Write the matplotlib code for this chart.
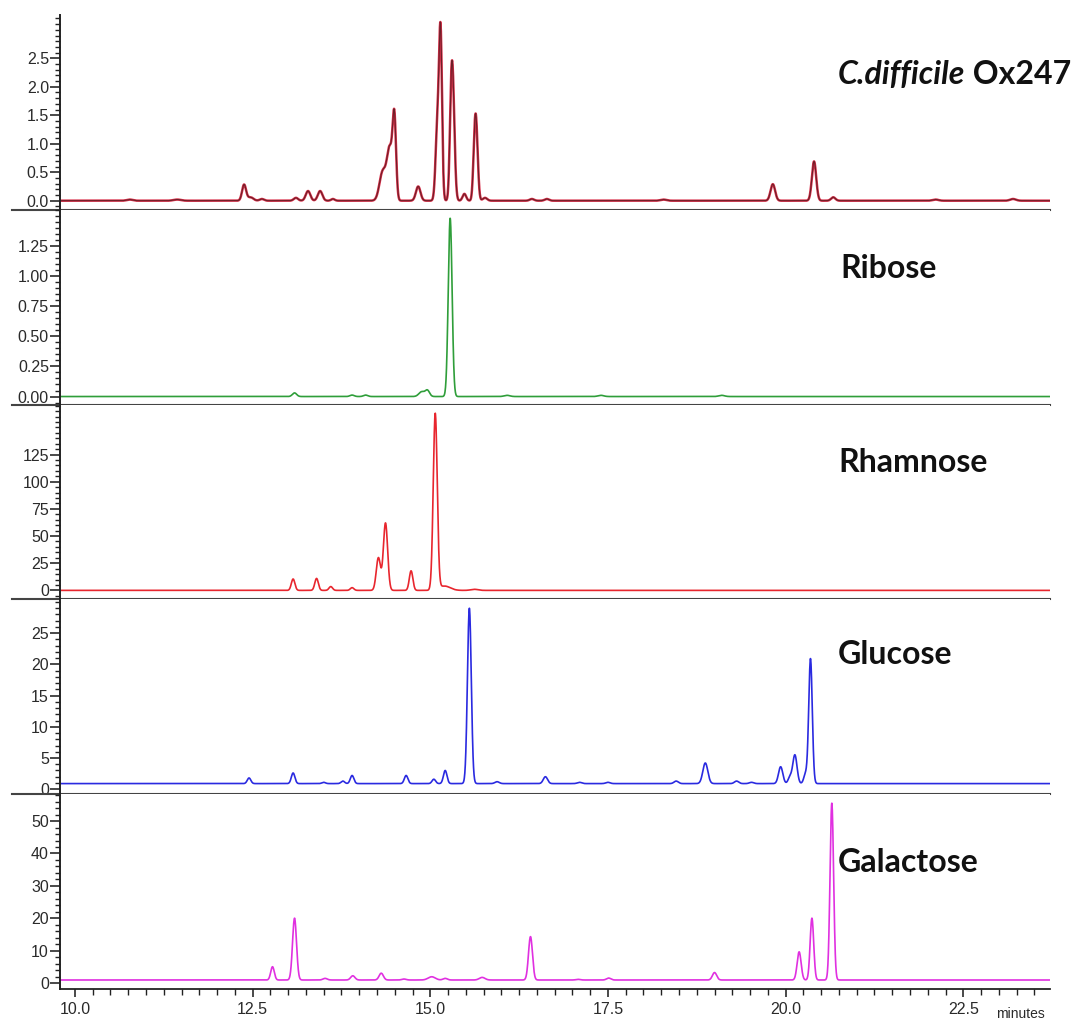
import numpy as np
import matplotlib.pyplot as plt
from matplotlib.ticker import MultipleLocator, FixedLocator, FormatStrFormatter
from matplotlib.lines import Line2D

ox247_rt = [10.77, 11.44, 12.38, 12.47, 12.63, 13.11, 13.28, 13.45, 13.63, 14.33, 14.43, 14.495,
            14.83, 15.10, 15.145, 15.29, 15.315, 15.48, 15.62, 15.645, 15.77, 16.43, 16.64,
            18.28, 19.82, 20.40, 20.67, 22.11, 23.20]
ox247_h = [0.02, 0.02, 0.28, 0.06, 0.03, 0.05, 0.17, 0.17, 0.03, 0.50, 0.90, 1.35,
           0.25, 1.30, 2.85, 0.80, 2.00, 0.12, 0.50, 1.25, 0.05, 0.03, 0.03,
           0.02, 0.29, 0.69, 0.06, 0.02, 0.03]
ox247_w = [0.04, 0.05, 0.028, 0.04, 0.03, 0.03, 0.032, 0.032, 0.025, 0.045, 0.04, 0.024,
           0.032, 0.025, 0.021, 0.02, 0.026, 0.025, 0.02, 0.024, 0.03, 0.03, 0.03,
           0.04, 0.032, 0.03, 0.03, 0.04, 0.04]
ox247_base = 0.0

ribose_rt = [13.09, 13.90, 14.09, 14.88, 14.96, 15.28, 16.08, 17.40, 19.10]
ribose_h = [0.03, 0.012, 0.012, 0.04, 0.05, 1.48, 0.01, 0.01, 0.01]
ribose_w = [0.03, 0.03, 0.03, 0.04, 0.03, 0.027, 0.04, 0.04, 0.04]
ribose_base = 0.0

rhamnose_rt = [13.07, 13.40, 13.60, 13.90, 14.27, 14.37, 14.73, 15.07, 15.20, 15.62]
rhamnose_h = [10.5, 11.0, 3.5, 2.5, 30.0, 62.0, 18.0, 162.0, 4.0, 1.0]
rhamnose_w = [0.025, 0.025, 0.025, 0.025, 0.03, 0.03, 0.025, 0.028, 0.08, 0.05]
rhamnose_base = 0.0

glucose_rt = [12.45, 13.07, 13.50, 13.77, 13.90, 14.66, 15.05, 15.21, 15.55, 15.94, 16.62,
              17.10, 17.50, 18.46, 18.87, 19.31, 19.52, 19.93, 20.06, 20.13, 20.28, 20.35]
glucose_h = [0.9, 1.7, 0.2, 0.4, 1.3, 1.3, 0.7, 2.1, 28.1, 0.3, 1.1,
             0.2, 0.2, 0.4, 3.3, 0.4, 0.2, 2.7, 1.0, 4.6, 1.5, 20.0]
glucose_w = [0.025, 0.025, 0.025, 0.025, 0.025, 0.025, 0.025, 0.025, 0.027, 0.03, 0.03,
             0.03, 0.03, 0.03, 0.035, 0.03, 0.03, 0.03, 0.025, 0.03, 0.025, 0.025]
glucose_base = 0.9

galactose_rt = [12.78, 13.09, 13.52, 13.91, 14.31, 14.63, 15.02, 15.21, 15.73, 16.41,
                17.08, 17.51, 19.00, 20.19, 20.37, 20.65]
galactose_h = [4.1, 19.1, 0.5, 1.3, 2.1, 0.3, 1.0, 0.5, 0.8, 13.4,
               0.2, 0.6, 2.3, 8.7, 19.1, 54.6]
galactose_w = [0.025, 0.028, 0.03, 0.03, 0.03, 0.03, 0.05, 0.03, 0.04, 0.028,
               0.03, 0.03, 0.03, 0.028, 0.025, 0.025]
galactose_base = 0.93

t = np.linspace(9.79, 23.72, 6000)


def trace(rt, h, w, base):
    y = np.full_like(t, base)
    for c, a, s in zip(rt, h, w):
        y += a * np.exp(-0.5 * ((t - c) / s) ** 2)
    return y


paneles = [
    dict(y=trace(ox247_rt, ox247_h, ox247_w, ox247_base), color="#c42a3c", ylim=(-0.16, 3.26),
         major=[0, 0.5, 1.0, 1.5, 2.0, 2.5], minor=0.1, fmt="%.1f"),
    dict(y=trace(ribose_rt, ribose_h, ribose_w, ribose_base), color="#2f9e3a", ylim=(-0.067, 1.55),
         major=[0, 0.25, 0.5, 0.75, 1.0, 1.25], minor=0.05, fmt="%.2f"),
    dict(y=trace(rhamnose_rt, rhamnose_h, rhamnose_w, rhamnose_base), color="#e8262e", ylim=(-8.3, 171),
         major=[0, 25, 50, 75, 100, 125], minor=5, fmt="%d"),
    dict(y=trace(glucose_rt, glucose_h, glucose_w, glucose_base), color="#2a2ae0", ylim=(-0.8, 30.4),
         major=[0, 5, 10, 15, 20, 25], minor=1, fmt="%d"),
    dict(y=trace(galactose_rt, galactose_h, galactose_w, galactose_base), color="#e030e0", ylim=(-1.85, 58.3),
         major=[0, 10, 20, 30, 40, 50], minor=2, fmt="%d"),
]

W, H = 1076, 1023
fig = plt.figure(figsize=(W / 100, H / 100), dpi=100)
left_px, right_px, top_px, ph = 60, 1050, 15, 194.8

axes = []
for i, p in enumerate(paneles):
    bottom = 1 - (top_px + (i + 1) * ph) / H
    ax = fig.add_axes([left_px / W, bottom, (right_px - left_px) / W, ph / H])
    axes.append(ax)
    if i == 0:
        ax.plot(t, p["y"], color="#d8304a", lw=1.8)
        ax.plot(t, p["y"], color="#6e1f28", lw=0.8)
    else:
        ax.plot(t, p["y"], color=p["color"], lw=1.2)
    ax.set_xlim(9.79, 23.72)
    ax.set_ylim(*p["ylim"])
    ax.yaxis.set_major_locator(FixedLocator(p["major"]))
    ax.yaxis.set_major_formatter(FormatStrFormatter(p["fmt"]))
    ax.yaxis.set_minor_locator(MultipleLocator(p["minor"]))
    ax.tick_params(axis="y", which="major", direction="out", length=7, width=1.2,
                   pad=1, labelsize=11.5, colors="#2a2a2a")
    ax.tick_params(axis="y", which="minor", direction="out", length=3.5, width=1.0, color="#222222")
    for lab in ax.get_yticklabels():
        lab.set_family("Liberation Sans")
    ax.spines["top"].set_visible(False)
    ax.spines["right"].set_visible(False)
    ax.spines["left"].set_linewidth(1.4)
    ax.spines["left"].set_color("#222222")
    if i < len(paneles) - 1:
        ax.spines["bottom"].set_visible(False)
        ax.set_xticks([])
        ax.add_line(Line2D([-48 / 990, 1.0], [0, 0], transform=ax.transAxes,
                           color="#444444", lw=1.5, clip_on=False))
    else:
        ax.spines["bottom"].set_linewidth(1.3)
        ax.spines["bottom"].set_color("#222222")
        ax.xaxis.set_major_locator(MultipleLocator(2.5))
        ax.xaxis.set_major_formatter(FormatStrFormatter("%.1f"))
        ax.xaxis.set_minor_locator(MultipleLocator(0.25))
        ax.tick_params(axis="x", which="major", direction="out", length=6, width=1.2,
                       pad=3, labelsize=11.5, colors="#2a2a2a")
        ax.tick_params(axis="x", which="minor", direction="out", length=4, width=1.0, color="#222222")
        for lab in ax.get_xticklabels():
            lab.set_family("Liberation Sans")

fig.text(1020 / W, 1 - 1014 / H, "minutes", ha="center", va="center",
         family="Liberation Sans", size=10, color="#2a2a2a")

# Etiquetas de cada traza
title_kw = dict(family=["Lato", "DejaVu Sans"], weight="bold", size=23, va="center", color="#111111")
t1 = fig.text(838 / W, 1 - 75 / H, "C.difficile", style="italic", **title_kw)
fig.canvas.draw()
bb = t1.get_window_extent()
fig.text(bb.x1 / W, 1 - 75 / H, " Ox247", **title_kw)
fig.text(840 / W, 1 - 268 / H, "Ribose", **title_kw)
fig.text(838 / W, 1 - 462 / H, "Rhamnose", **title_kw)
fig.text(838 / W, 1 - 655 / H, "Glucose", **title_kw)
fig.text(838 / W, 1 - 862 / H, "Galactose", **title_kw)

fig.savefig("out.png", dpi=100)
